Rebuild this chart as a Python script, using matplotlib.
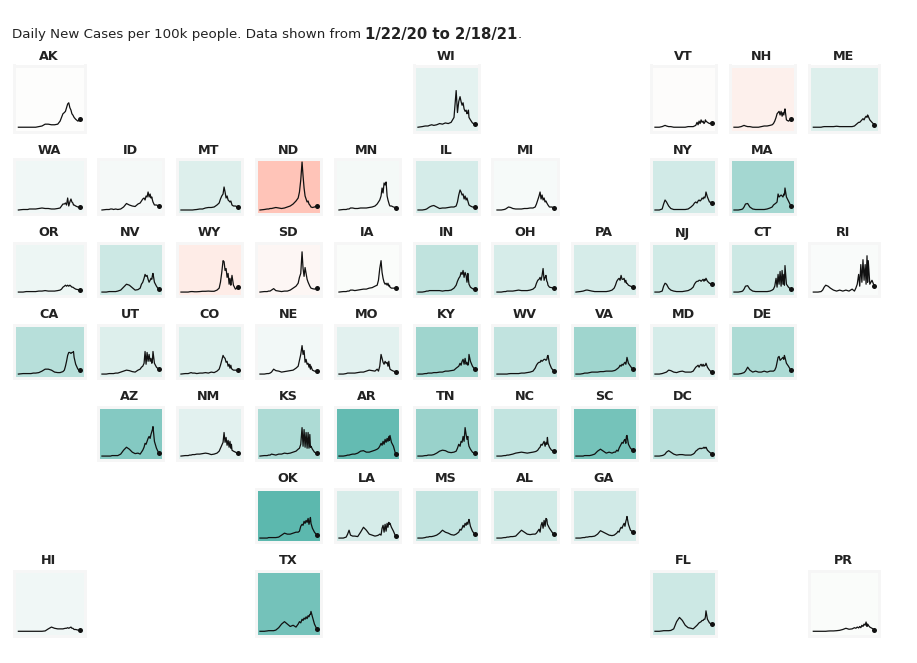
#!/usr/bin/env python3
"""Small multiples of daily new covid cases, laid out like a map of the US states."""
import matplotlib
matplotlib.use('Agg')
import matplotlib.pyplot as plt
from matplotlib.colors import LinearSegmentedColormap

# days since 1/22/20, the same sampling for every state
DAYS = [0, 30, 50, 60, 70, 80, 95, 110, 130, 150, 170, 190, 210, 230, 250, 265,
        274, 283, 292, 299, 306, 313, 320, 327, 334, 340, 346, 350, 354, 364, 378, 393]

# new cases, in units of about 4 per 100k
AK = [0, 0, 0, 0, 0, 0, 0, 0, .5, 1, 2.5, 2.5, 2, 2, 2.5, 5, 8, 11, 12, 13, 16, 19, 20, 16, 14, 11, 10, 9, 8, 6.5, 5, 6.5]
WI = [0, .5, 1, 1, 1, 1.5, 2, 1.5, 2, 3, 2.5, 3.5, 3, 4, 8, 30, 12, 21, 25, 21, 18, 20, 15, 13, 14, 11, 12, 14, 8, 6, 3.5, 2.5]
VT = [0, 0, .5, 1, 1.5, 1, .5, .5, 0, 0, 0, 0, 0, .5, .5, .5, 1, 1.5, 4, 2, 5, 3, 6, 4, 5, 3, 4, 6, 5, 4, 3, 3.5]
NH = [0, 0, .5, 1, 1.5, 1, .5, .5, 0, 0, 0, .5, 1, 1, 1.5, 2, 3, 5, 8, 11, 12, 13, 10, 13, 9, 12, 10, 13, 15, 6, 5, 6.5]
ME = [0, 0, 0, .3, .5, .5, .5, .5, .5, .8, .5, .5, .5, .5, .5, 1, 2, 3, 4, 4, 5, 6, 7, 6, 8, 9, 8, 10, 9, 6, 4, 2]
WA = [0, .5, .5, .5, 1, 1, 1, 1, 1.5, 2, 1.5, 1.5, 1, 1, 1.5, 2, 4, 6, 6, 7, 5, 12, 4, 8, 11, 8, 7, 5, 5, 4, 3, 3]
ID = [0, .5, .5, 1, 1, .5, 1, .5, 1, 3, 6.5, 5, 4, 3.5, 6, 7, 9, 11, 12, 10, 14, 13, 18, 13, 16, 12, 13, 10, 8, 5, 5, 4]
MT = [0, 0, 0, 0, 0, 0, .3, .5, 1, 1, 2, 2.5, 2.5, 3, 5, 7, 11, 14, 16, 23, 18, 12, 14, 10, 9, 8, 9, 7, 5, 4, 4, 3]
ND = [0, .5, 1, 1, 1.5, 1.5, 2, 2.5, 2, 1.5, 2, 3, 4, 6, 9, 12, 18, 30, 48, 34, 22, 14, 11, 8, 9, 6, 5, 4, 3, 2.5, 3, 4]
MN = [0, .5, .5, 1, 1, 2, 2, 1.5, 1.5, 2, 2, 2, 2.5, 3, 4, 6, 8, 10, 14, 22, 17, 27, 25, 28, 14, 10, 7, 5, 4, 4, 3, 2.5]
IL = [0, 0, .5, 1, 2, 3, 4, 4.5, 3, 1.5, 2, 2, 2.5, 3, 3, 4, 8, 15, 20, 18, 15, 16, 11, 14, 10, 12, 9, 7, 5, 4, 3, 3]
MI = [0, 0, .5, 1, 2, 3, 2.5, 1.5, 1, 1, 1, 1.5, 1.5, 2, 2, 3, 6, 10, 14, 18, 11, 15, 10, 12, 8, 9, 7, 6, 5, 3, 3, 2.5]
NY = [0, 0, 1, 6, 10, 8, 4, 1.5, .5, .5, .5, .5, .5, 1, 3, 5, 7, 8, 7, 9, 10, 9, 10, 12, 11, 13, 12, 14, 18, 13, 8, 7.5]
MA = [0, 0, .5, 1, 3, 6, 6.5, 3, 1, .5, .5, .5, .5, 1, 2, 3, 5, 6, 7, 8, 16, 13, 14, 15, 14, 13, 16, 15, 22, 13, 9, 4.5]
OR = [0, 0, .5, .5, .5, .5, .5, .5, 1, 1, 1.5, 1, 1, 1, 1.5, 2, 3, 5, 6, 7, 6, 7, 6, 7, 6, 5, 5, 4.5, 4, 3, 2.5, 2]
NV = [0, 0, .5, .5, .5, .5, .5, 1, 2, 5, 8, 7, 4.5, 2, 2.5, 4, 8, 10, 14, 18, 16, 17, 13, 10, 12, 14, 13, 17, 19, 10, 6, 2.7]
WY = [0, 0, 0, .3, .5, .5, .3, .3, .5, .8, .8, 1, .8, .8, 2, 4, 10, 20, 32, 31, 22, 24, 15, 19, 8, 14, 7, 12, 17, 7, 3, 4.7]
SD = [0, .5, .5, 1, 1, 2, 3.5, 1.5, 1, .5, 1, 1, 2, 4, 6, 9, 15, 19, 41, 24, 16, 25, 19, 13, 10, 8, 6, 5, 4, 3.5, 3, 4]
IA = [0, .5, .5, 1, 1, 2, 2, 1.5, 2, 2.5, 3, 3, 4, 4.5, 6, 7, 12, 24, 32, 20, 14, 10, 8, 9, 7, 9, 6, 7, 5, 4, 4, 4]
IN = [0, 0, .5, 1, 1, 1.5, 1.5, 1.5, 1.5, 1.5, 1, 1.5, 1.5, 2, 4, 7, 11, 14, 16, 20, 18, 22, 15, 20, 17, 10, 19, 13, 8, 5, 3.5, 2.7]
OH = [0, 0, .5, .5, 1, 1, 1, 1, 1.5, 2, 1.5, 1.5, 1.5, 2, 3, 5, 9, 12, 13, 15, 12, 17, 24, 12, 15, 17, 11, 10, 7, 5, 4.5, 4]
PA = [0, .5, 1, 1.5, 2, 2, 1.5, 1, .5, .5, .5, .5, .5, 1, 2, 4, 7, 11, 13, 14, 12, 17, 13, 13, 14, 10, 12, 9, 9, 7, 6, 5.3]
NJ = [0, 0, 1, 6, 9, 8, 4, 2, 1, .5, .5, .5, 1, 1.5, 3, 5, 8, 10, 11, 11, 12, 12, 11, 12, 13, 11, 13, 12, 14, 11, 9, 8]
CT = [0, 0, .5, 1, 3, 6, 6.5, 3, 1, .5, .5, .5, .5, .5, 1, 2, 3, 6, 14, 5, 18, 8, 21, 6, 22, 8, 18, 7, 27, 8, 5, 3]
RI = [0, 0, .5, 2, 5, 7, 6, 4, 2, 1, 2, 1, 2, 1, 3, 1, 4, 8, 18, 6, 28, 10, 33, 12, 28, 8, 37, 10, 32, 8, 12, 6]
CA = [0, .5, .5, .5, .5, .5, 1, 1, 1.5, 3, 5, 5, 4, 2, 1.5, 1.5, 2, 2.5, 4, 8, 13, 19, 22, 22, 21, 22, 22, 23, 17, 10, 5, 3.7]
UT = [0, 0, .5, .5, .5, .5, 1, 1, 2, 3, 4, 3.5, 2.5, 2, 4, 5, 7, 8, 11, 23, 10, 22, 13, 20, 13, 16, 11, 14, 23, 11, 7, 5]
CO = [0, .5, .5, 1, 1.5, 1, 1, .5, 1, 1, 1.5, 1, 2, 1.5, 3, 5, 9, 14, 19, 17, 16, 12, 13, 8, 10, 6, 9, 6, 5, 4, 4, 3.7]
NE = [0, 0, .5, .5, 1, 2, 5, 3.5, 3, 2, 2.5, 3, 3.5, 4, 6, 8, 14, 20, 29, 20, 24, 12, 15, 10, 11, 7, 10, 5, 8, 4, 3, 2.7]
MO = [0, 0, .5, 1, 1, 1, 1, 1, 1.5, 2, 2, 3, 4, 3.5, 3, 5, 3, 8, 20, 16, 12, 10, 13, 11, 12, 8, 13, 8, 5, 4, 3, 2.3]
KY = [0, 0, .5, .5, 1, 1, 1, 1.5, 1.5, 2, 2, 3, 3, 3.5, 4, 6, 7, 8, 11, 9, 13, 15, 10, 16, 10, 12, 9, 10, 20, 13, 8, 5]
WV = [0, 0, 0, 0, 0, .3, .5, .5, .5, .5, 1, 1, 1.5, 2, 3, 6, 9, 11, 12, 12, 14, 13, 14, 15, 15, 14, 15, 18, 19, 11, 6, 3.3]
VA = [0, 0, .5, 1, 1, 1, 1.5, 2, 2, 2, 2.5, 2.5, 3, 3, 3, 3.5, 4, 5, 6, 7, 9, 8, 10, 9, 11, 12, 10, 13, 17, 11, 8, 5]
MD = [0, 0, .5, 1, 1.5, 2, 4, 3.5, 2, 1.5, 2.5, 3, 2, 2, 2, 3, 5, 7, 8, 9, 7, 9, 10, 8, 10, 8, 9, 9, 11, 7, 4, 2]
DE = [0, 0, .5, 1, 1.5, 3, 7, 4, 2, 3, 2, 2, 3, 2, 3, 3, 3, 4, 7, 12, 17, 18, 14, 15, 16, 17, 15, 19, 17, 11, 8, 4.3]
AZ = [0, 0, 0, 0, .5, .5, .5, .5, 2, 6, 9, 7, 4, 2.5, 3, 2, 4, 6, 9, 13, 12, 15, 18, 20, 18, 22, 25, 27, 30, 15, 8, 3.3]
NM = [0, .5, .5, 1, 1, 1.5, 1.5, 2, 2, 2.5, 3, 2.5, 1.5, 2, 3, 5, 8, 11, 14, 24, 14, 19, 11, 16, 9, 15, 8, 12, 6, 5, 4, 2.7]
KS = [0, .5, .5, 1, 1, 2, 1.5, 1, 2, 2, 3, 2.5, 3, 4, 5, 7, 8, 12, 29, 10, 27, 9, 24, 8, 24, 8, 22, 9, 10, 7, 4, 2.7]
AR = [0, 0, .5, 1, 1, 1.5, 2, 2, 3, 5, 5.5, 4, 4, 5, 6, 7, 8, 10, 13, 11, 15, 12, 17, 14, 18, 15, 20, 16, 21, 14, 10, 2]
TN = [0, 0, .5, .5, 1, 1, 1, 1.5, 3, 5, 6, 5.5, 4, 3.5, 4, 5, 8, 12, 10, 15, 14, 20, 15, 29, 22, 17, 20, 13, 10, 7, 4, 2.7]
NC = [0, 0, .5, .5, 1, 1, 1.5, 2, 3, 3.5, 4, 3.5, 3, 3.5, 4, 4.5, 5, 6, 8, 9, 12, 11, 13, 15, 10, 14, 12, 19, 13, 9, 6, 5.3]
SC = [0, 0, 0, .5, .5, .5, .5, 1, 2, 5, 7, 5, 3, 4, 3, 4, 4, 6, 5, 8, 10, 12, 14, 13, 16, 17, 13, 20, 21, 12, 8, 6]
DC = [0, 0, .5, 1, 2, 4, 5.5, 4, 2, 1, 1.5, 1.5, 1, 1, 1, 2, 3, 5, 6, 7, 7.5, 8, 7.5, 8, 8, 9, 8, 8.5, 9, 6, 4, 2.3]
OK = [0, 0, 0, .5, .5, .5, .5, .5, 1, 3, 5, 4, 4, 5, 6, 6, 7, 12, 14, 13, 17, 15, 18, 16, 20, 14, 18, 21, 15, 10, 6, 3.3]
LA = [0, 0, 1, 4, 8, 3, 2, 2, 1.5, 6, 11, 8, 4, 3, 2, 2.5, 3, 4, 3, 10, 13, 6, 14, 7, 15, 11, 16, 14, 15, 11, 7, 1.7]
MS = [0, 0, .5, 1, 1, 1.5, 1.5, 2, 3, 5, 8, 6, 5, 3.5, 3, 4, 5, 6, 9, 8, 10, 13, 11, 15, 13, 16, 14, 17, 19, 12, 7, 4]
AL = [0, 0, .5, .5, 1, 1, 1.5, 1.5, 2, 5, 8, 6, 4, 3.5, 4, 4, 5, 7, 9, 6, 13, 16, 10, 18, 12, 20, 19, 14, 13, 10, 7, 3.7]
GA = [0, 0, .5, .5, 1, 1, 1.5, 1.5, 2, 4, 7.5, 6, 4.5, 3, 2.5, 3, 4, 5, 7, 6, 9, 11, 10, 13, 15, 12, 17, 19, 22, 14, 8, 6.3]
TX = [0, 0, .3, .5, .5, .5, .5, 1, 3, 6, 8, 6, 4, 5, 3.5, 6, 8, 7, 10, 9, 11, 10, 12, 10.5, 13, 12, 14, 14, 16.5, 12, 6, 2.2]
HI = [0, 0, 0, 0, 0, 0, 0, 0, 0, 0, .3, 2, 3.5, 2.5, 2, 2, 2, 2, 2.3, 2.5, 2.5, 3, 2.5, 3, 3.5, 2.5, 2.5, 2, 1.5, 1.5, 1, .7]
FL = [0, 0, .3, .5, .5, .5, .5, .7, 2, 8, 11.5, 9, 5, 3, 2.5, 2, 3, 4, 5, 6, 7, 7.5, 8, 9, 9, 10, 10, 12, 17, 10, 7, 5.8]
PR = [0, 0, 0, 0, 0, 0, .2, .3, .3, .5, .8, 1.5, 2.5, 1.7, 2, 3, 2.5, 3.5, 2.8, 4, 3, 5, 4, 6, 5, 7.7, 4, 6, 5, 3.5, 2.5, 1.4]

SERIES = {'AK': AK, 'WI': WI, 'VT': VT, 'NH': NH, 'ME': ME, 'WA': WA, 'ID': ID, 'MT': MT, 'ND': ND,
          'MN': MN, 'IL': IL, 'MI': MI, 'NY': NY, 'MA': MA, 'OR': OR, 'NV': NV, 'WY': WY, 'SD': SD,
          'IA': IA, 'IN': IN, 'OH': OH, 'PA': PA, 'NJ': NJ, 'CT': CT, 'RI': RI, 'CA': CA, 'UT': UT,
          'CO': CO, 'NE': NE, 'MO': MO, 'KY': KY, 'WV': WV, 'VA': VA, 'MD': MD, 'DE': DE, 'AZ': AZ,
          'NM': NM, 'KS': KS, 'AR': AR, 'TN': TN, 'NC': NC, 'SC': SC, 'DC': DC, 'OK': OK, 'LA': LA,
          'MS': MS, 'AL': AL, 'GA': GA, 'TX': TX, 'HI': HI, 'FL': FL, 'PR': PR}

# tile shade: -1 is the strongest teal, 0 white, 1 the strongest red
SHADE = {'AK': 0, 'WI': -.15, 'VT': .01, 'NH': .23, 'ME': -.2, 'WA': -.08, 'ID': -.05, 'MT': -.2,
         'ND': 1, 'MN': -.06, 'IL': -.25, 'MI': -.04, 'NY': -.27, 'MA': -.55, 'OR': -.1, 'NV': -.3,
         'WY': .3, 'SD': .12, 'IA': -.02, 'IN': -.38, 'OH': -.24, 'PA': -.24, 'NJ': -.28, 'CT': -.3,
         'RI': -.03, 'CA': -.43, 'UT': -.2, 'CO': -.2, 'NE': -.07, 'MO': -.17, 'KY': -.58, 'WV': -.37,
         'VA': -.58, 'MD': -.25, 'DE': -.5, 'AZ': -.75, 'NM': -.17, 'KS': -.5, 'AR': -.95, 'TN': -.62,
         'NC': -.36, 'SC': -.84, 'DC': -.42, 'OK': -1, 'LA': -.24, 'MS': -.36, 'AL': -.28, 'GA': -.27,
         'TX': -.85, 'HI': -.08, 'FL': -.3, 'PR': -.02}

# map layout, one row of (state, column) per line
ROWS = [
    [('AK', 0), ('WI', 5), ('VT', 8), ('NH', 9), ('ME', 10)],
    [('WA', 0), ('ID', 1), ('MT', 2), ('ND', 3), ('MN', 4), ('IL', 5), ('MI', 6), ('NY', 8), ('MA', 9)],
    [('OR', 0), ('NV', 1), ('WY', 2), ('SD', 3), ('IA', 4), ('IN', 5), ('OH', 6), ('PA', 7), ('NJ', 8), ('CT', 9), ('RI', 10)],
    [('CA', 0), ('UT', 1), ('CO', 2), ('NE', 3), ('MO', 4), ('KY', 5), ('WV', 6), ('VA', 7), ('MD', 8), ('DE', 9)],
    [('AZ', 1), ('NM', 2), ('KS', 3), ('AR', 4), ('TN', 5), ('NC', 6), ('SC', 7), ('DC', 8)],
    [('OK', 3), ('LA', 4), ('MS', 5), ('AL', 6), ('GA', 7)],
    [('HI', 0), ('TX', 3), ('FL', 8), ('PR', 10)],
]

W, H = 917, 663
COL_EDGES = [(12, 86), (96, 164), (175, 243), (254, 322), (333, 401), (412, 480),
             (491, 559), (570, 638), (649, 717), (728, 796), (807, 880)]
ROW_EDGES = [(64, 133), (158, 215), (241, 297), (323, 379), (405, 461), (487, 543), (569, 637)]
BORDER = 3

cmap = LinearSegmentedColormap.from_list('trend', ['#5cb8ae', '#fdfdfc', '#ffc4b8'])

fig = plt.figure(figsize=(W / 100, H / 100), dpi=100)
plt.rcParams['font.family'] = ['DejaVu Sans']


def add_tile(state, col, row):
    x0, x1 = COL_EDGES[col]
    y0, y1 = ROW_EDGES[row]
    # spines sit centred on the axes edge, so pull the box in by half a border
    pad = BORDER / 2
    ax = fig.add_axes([(x0 + pad) / W, 1 - (y1 - pad) / H,
                       (x1 - x0 - BORDER) / W, (y1 - y0 - BORDER) / H])
    ax.set_facecolor(cmap((SHADE[state] + 1) / 2))
    for spine in ax.spines.values():
        spine.set_color('#f6f6f6')
        spine.set_linewidth(BORDER * 0.72)
    ax.set_xticks([])
    ax.set_yticks([])
    ax.set_xlim(-31, 420)
    ax.set_ylim(-3.5, 50.5)
    values = SERIES[state]
    ax.plot(DAYS, values, color='#111111', lw=0.9, solid_joinstyle='round')
    ax.plot(DAYS[-1], values[-1], 'o', color='#111111', ms=3.6, mew=0)
    fig.text((x0 + x1) / 2 / W, 1 - (y0 - 8) / H, state, ha='center', va='center',
             fontsize=9.2, fontweight='bold', color='#222222')


for row, cells in enumerate(ROWS):
    for state, col in cells:
        add_tile(state, col, row)

# header: plain, bold, plain, placed one after the other
renderer = fig.canvas.get_renderer()
x = 12
for part, weight, size in [('Daily New Cases per 100k people. Data shown from ', 'normal', 9.65),
                           ('1/22/20 to 2/18/21', 'bold', 10.7), ('.', 'normal', 9.65)]:
    t = fig.text(x / W, 1 - 34.5 / H, part, ha='left', va='center', fontsize=size,
                 fontweight=weight, color='#222222')
    x += t.get_window_extent(renderer).width

fig.savefig('out.png', dpi=100)
plt.close(fig)
